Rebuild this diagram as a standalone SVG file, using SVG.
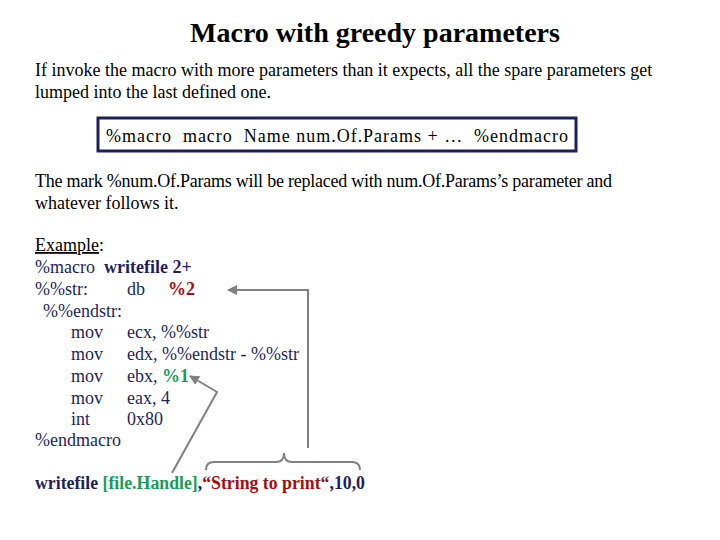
<svg xmlns="http://www.w3.org/2000/svg" width="720" height="540" viewBox="0 0 720 540">
<style>
text{font-family:"Liberation Serif","Times New Roman",serif;font-size:18px;fill:#000;white-space:pre}
.c{fill:#1f1f5c}
.b{font-weight:bold}
.r{fill:#a01010;font-weight:bold}
.g{fill:#1d9a5a;font-weight:bold}
.ln{stroke:#808080;stroke-width:2;fill:none}
</style>
<defs><marker id="ah" viewBox="0 0 10 10" refX="9" refY="5" markerWidth="5" markerHeight="5" orient="auto"><path d="M0,0L10,5L0,10z" fill="#808080"/></marker></defs>
<rect width="720" height="540" fill="#fff"/>
<g id="title"><text x="375" y="42" text-anchor="middle" class="b" style="font-size:28px">Macro with greedy parameters</text></g>
<g id="intro"><text x="35" y="76">If invoke the macro with more parameters than it expects, all the spare parameters get</text>
<text x="35" y="98">lumped into the last defined one.</text></g>
<g id="syntax"><rect x="98" y="118" width="478" height="33" fill="#fff" stroke="#1f1f5c" stroke-width="3"/>
<text x="106" y="142" xml:space="preserve" textLength="462" lengthAdjust="spacing">%macro  macro  Name num.Of.Params + …  %endmacro</text></g>
<g id="desc"><text x="35" y="187" textLength="577" lengthAdjust="spacing">The mark %num.Of.Params will be replaced with num.Of.Params’s parameter and</text>
<text x="35" y="209">whatever follows it.</text></g>
<g id="code">
<text x="35" y="251"><tspan text-decoration="underline">Example</tspan>:</text>
<text x="35" y="273" class="c" xml:space="preserve">%macro  <tspan class="b">writefile 2+</tspan></text>
<text x="35" y="295" class="c">%%str:</text><text x="127" y="295" class="c">db</text><text x="168" y="295" class="r">%2</text>
<text x="43" y="317" class="c">%%endstr:</text>
<text x="71" y="338" class="c">mov</text><text x="127" y="338" class="c">ecx, %%str</text>
<text x="71" y="360" class="c">mov</text><text x="127" y="360" class="c">edx, %%endstr - %%str</text>
<text x="71" y="382" class="c">mov</text><text x="127" y="382" class="c">ebx, <tspan class="g">%1</tspan></text>
<text x="71" y="404" class="c">mov</text><text x="127" y="404" class="c">eax, 4</text>
<text x="71" y="425" class="c">int</text><text x="127" y="425" class="c">0x80</text>
<text x="35" y="446" class="c">%endmacro</text>
<text x="35" y="489" class="c b" textLength="330" lengthAdjust="spacingAndGlyphs">writefile <tspan class="g">[file.Handle]</tspan>,<tspan class="r">“String to print“</tspan>,10,0</text>
</g>
<g id="connectors">
<path class="ln" d="M308,448V290H228" marker-end="url(#ah)"/>
<path class="ln" d="M172,473L217,392L190,376" marker-end="url(#ah)"/>
<path class="ln" stroke-width="1.5" d="M206,470Q206,462 214,462H276Q284,462 284,453Q284,462 292,462H352Q360,462 360,470"/>
</g>
</svg>
